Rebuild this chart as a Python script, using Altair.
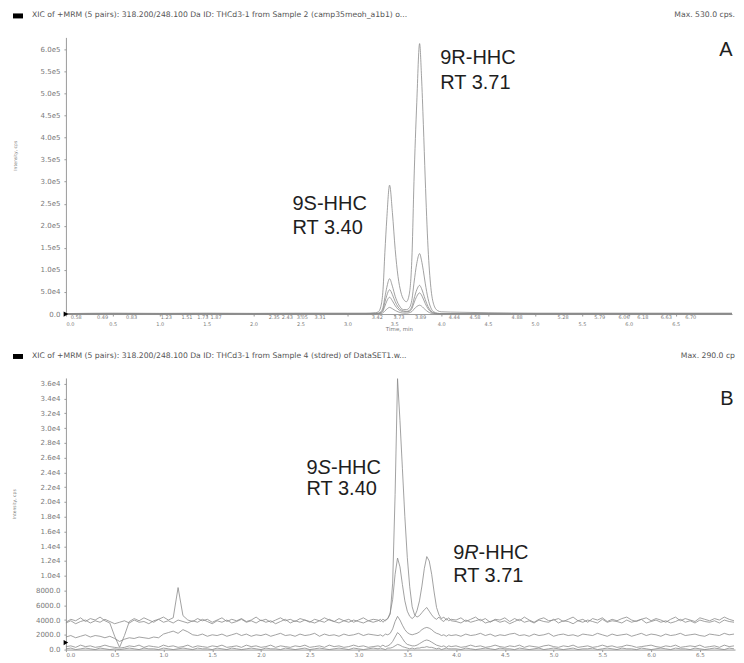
import altair as alt
import numpy as np
import pandas as pd

# ---------------- Panel A data (intensity in thousands of cps) ----------------
TA = [0.0, 0.5, 1.0, 1.5, 2.0, 2.5, 3.0, 3.2,
      3.30, 3.33, 3.36, 3.38, 3.40, 3.42, 3.45, 3.48,
      3.51, 3.54, 3.57, 3.60, 3.63, 3.66, 3.69, 3.71,
      3.74, 3.77, 3.79, 3.81, 3.83, 3.86, 3.89, 3.92,
      3.96, 4.0, 4.2, 4.5, 5.0, 5.5, 6.0, 6.5, 7.1]
A1 = [1, 2, 1.5, 2, 1.5, 2, 2, 2,
      3, 5, 20, 55, 140, 215, 292, 230,
      146, 85, 50, 33, 28, 45, 140, 300,
      480, 613, 540, 430, 306, 150, 60, 22,
      8, 5, 4, 3, 2, 2, 2, 2, 2]
A2 = [0.5, 1, 0.8, 1, 0.8, 1, 1, 1,
      1.5, 2, 6, 15, 38, 60, 80, 63,
      40, 24, 14, 10, 10, 14, 35, 70,
      115, 137, 122, 98, 70, 35, 14, 5,
      2, 1, 1, 1, 1, 1, 1, 1, 1]
A3 = [0.3, 0.5, 0.4, 0.5, 0.4, 0.5, 0.5, 0.5,
      1, 1.5, 4, 10, 27, 42, 55, 44,
      28, 16, 10, 7, 6, 8, 18, 34,
      55, 65, 58, 46, 33, 17, 7, 3,
      1, 0.5, 0.5, 0.5, 0.5, 0.5, 0.5, 0.5, 0.5]
A4 = [0.2, 0.3, 0.2, 0.3, 0.2, 0.3, 0.3, 0.3,
      0.5, 1, 3, 7, 18, 29, 38, 30,
      19, 11, 7, 5, 5, 6, 13, 25,
      40, 48, 43, 34, 24, 12, 5, 2,
      0.5, 0.3, 0.3, 0.3, 0.3, 0.3, 0.3, 0.3, 0.3]
A5 = [0.1, 0.2, 0.1, 0.2, 0.1, 0.2, 0.2, 0.2,
      0.3, 0.5, 1, 3, 7, 11, 15, 12,
      8, 5, 3, 2, 2, 3, 6, 11,
      17, 20, 18, 14, 10, 5, 2, 1,
      0.3, 0.2, 0.2, 0.2, 0.2, 0.2, 0.2, 0.2, 0.2]

A_PEAK_LABELS = ["0.58", "0.49", "0.83", "1.23", "1.51", "1.73", "1.87", "2.35", "2.43",
                 "3.05", "3.31", "3.42", "3.73", "3.89", "4.44", "4.58", "4.88", "5.28",
                 "5.79", "6.06", "6.18", "6.63", "6.70"]
A_PEAK_LABEL_T = [0.11, 0.39, 0.70, 1.07, 1.29, 1.46, 1.60, 2.22, 2.36,
                  2.52, 2.71, 3.32, 3.55, 3.78, 4.14, 4.36, 4.81, 5.30,
                  5.69, 5.95, 6.15, 6.40, 6.66]

# ---------------- Panel B data (intensity in hundreds of cps) ----------------
TB_1 = np.round(np.arange(0.0, 3.151, 0.05), 3).tolist()      # 64 points
TB_2 = np.round(np.arange(3.2, 3.951, 0.025), 3).tolist()     # 31 points
TB_3 = np.round(np.arange(4.0, 6.851, 0.05), 3).tolist()      # 58 points

B1 = ([37, 41, 39, 43, 38, 42, 40, 44,
       39, 36, 18, 3, 19, 38, 42, 39,
       43, 40, 37, 41, 44, 40, 43, 84,
       46, 40, 38, 42, 39, 41, 37, 40,
       43, 38, 41, 39, 42, 38, 40, 44,
       39, 41, 37, 40, 43, 39, 41, 38,
       42, 40, 37, 41, 39, 43, 40, 38,
       42, 39, 41, 37, 40, 43, 39, 41],
      [40, 38, 41, 39, 42, 48, 90, 210,
       367, 310, 245, 180, 125, 85, 58, 47,
       44, 46, 50, 54, 57, 52, 47, 43,
       41, 44, 40, 38, 42, 39, 41],
      [40, 43, 38, 41, 44, 39, 42, 37,
       41, 40, 43, 38, 42, 39, 44, 40,
       37, 41, 43, 39, 40, 42, 38, 41,
       44, 39, 41, 37, 42, 40, 43, 38,
       41, 39, 42, 44, 40, 38, 41, 43,
       39, 42, 40, 37, 41, 44, 39, 42,
       40, 38, 43, 41, 39, 42, 40, 44,
       41, 39])
B2 = ([36, 39, 35, 38, 40, 36, 39, 37,
       41, 38, 35, 37, 39, 36, 40, 37,
       38, 35, 39, 41, 37, 39, 36, 40,
       38, 36, 39, 37, 41, 38, 35, 39,
       37, 40, 36, 38, 41, 37, 39, 36,
       40, 37, 39, 35, 38, 41, 36, 39,
       37, 40, 38, 36, 39, 37, 41, 38,
       36, 39, 37, 40, 38, 36, 39, 37],
      [39, 41, 37, 40, 42, 50, 68, 102,
       124, 112, 88, 66, 52, 45, 42, 45,
       53, 66, 86, 110, 126, 120, 102, 78,
       57, 47, 42, 44, 40, 43, 39],
      [38, 36, 40, 37, 39, 41, 36, 38,
       40, 37, 39, 35, 38, 41, 37, 39,
       36, 40, 38, 37, 41, 36, 39, 38,
       35, 39, 37, 40, 38, 36, 41, 37,
       39, 38, 36, 40, 37, 39, 41, 36,
       38, 40, 37, 39, 36, 38, 41, 37,
       39, 36, 40, 38, 37, 39, 36, 40,
       38, 37])
B3 = ([17, 19, 16, 18, 20, 17, 19, 18,
       16, 18, 15, 11, 14, 16, 15, 17,
       16, 15, 17, 16, 21, 23, 25, 22,
       27, 24, 20, 19, 21, 18, 20, 19,
       21, 18, 20, 22, 19, 21, 18, 20,
       19, 21, 18, 20, 22, 19, 20, 18,
       21, 19, 20, 22, 18, 21, 19, 20,
       18, 21, 19, 20, 22, 19, 21, 20],
      [19, 20, 18, 21, 20, 22, 28, 38,
       45, 40, 33, 27, 23, 21, 20, 21,
       22, 24, 27, 29, 30, 29, 27, 24,
       22, 21, 19, 20, 18, 20, 19],
      [20, 18, 21, 19, 20, 22, 19, 21,
       18, 20, 19, 21, 22, 19, 20, 18,
       21, 19, 20, 22, 18, 20, 21, 19,
       20, 18, 21, 20, 19, 22, 20, 18,
       21, 19, 20, 21, 18, 20, 22, 19,
       21, 20, 18, 21, 19, 20, 22, 19,
       20, 21, 19, 18, 21, 20, 19, 22,
       20, 21])
B4 = ([4, 5, 3, 6, 4, 5, 3, 4,
       6, 4, 3, 2, 3, 5, 4, 6,
       3, 5, 4, 3, 6, 4, 5, 3,
       4, 6, 3, 5, 4, 3, 5, 4,
       6, 3, 4, 5, 3, 6, 4, 5,
       3, 4, 6, 3, 5, 4, 3, 5,
       4, 6, 3, 4, 5, 3, 6, 4,
       5, 3, 4, 6, 4, 5, 3, 4],
      [5, 4, 6, 4, 5, 7, 11, 17,
       23, 20, 15, 10, 7, 6, 5, 5,
       6, 8, 10, 12, 13, 12, 10, 8,
       6, 5, 4, 5, 3, 5, 4],
      [5, 3, 4, 6, 4, 5, 3, 4,
       6, 4, 3, 5, 4, 6, 3, 5,
       4, 3, 5, 6, 4, 3, 5, 4,
       6, 3, 4, 5, 3, 4, 6, 4,
       5, 3, 4, 6, 5, 3, 4, 5,
       6, 4, 3, 5, 4, 6, 3, 4,
       5, 4, 6, 3, 4, 5, 3, 6,
       4, 5])
B5 = ([1, 2, 0, 1, 2, 1, 0, 2,
       1, 0, 1, 0, 1, 2, 1, 0,
       2, 1, 1, 0, 2, 1, 0, 1,
       2, 1, 0, 2, 1, 1, 0, 2,
       1, 0, 2, 1, 0, 1, 2, 1,
       0, 2, 1, 1, 0, 2, 1, 0,
       1, 2, 0, 1, 2, 1, 0, 1,
       2, 1, 0, 2, 1, 0, 1, 2],
      [1, 2, 1, 0, 2, 2, 3, 5,
       7, 6, 4, 3, 2, 1, 2, 1,
       2, 2, 3, 3, 4, 3, 3, 2,
       1, 2, 0, 1, 2, 1, 1],
      [1, 0, 2, 1, 0, 1, 2, 1,
       0, 2, 1, 1, 0, 2, 1, 0,
       1, 2, 0, 1, 2, 1, 0, 1,
       2, 0, 1, 1, 2, 0, 1, 2,
       1, 0, 2, 1, 1, 0, 2, 1,
       0, 1, 2, 1, 0, 2, 1, 1,
       0, 2, 1, 0, 1, 2, 1, 0,
       2, 1])

HEADER_A = "XIC of +MRM (5 pairs): 318.200/248.100 Da ID: THCd3-1 from Sample 2 (camp35meoh_a1b1) o..."
MAX_A = "Max. 530.0 cps."
HEADER_B = "XIC of +MRM (5 pairs): 318.200/248.100 Da ID: THCd3-1 from Sample 4 (stdred) of DataSET1.w..."
MAX_B = "Max. 290.0 cp"

# ---------------- build tables ----------------
rows = []
for name, vals in [("T1", A1), ("T2", A2), ("T3", A3), ("T4", A4), ("T5", A5)]:
    for t, v in zip(TA, vals):
        rows.append({"trace": name, "t": t, "v": v * 1000})
dfA = pd.DataFrame(rows)

rows = []
for name, segs in [("T1", B1), ("T2", B2), ("T3", B3), ("T4", B4), ("T5", B5)]:
    for times, vals in zip((TB_1, TB_2, TB_3), segs):
        for t, v in zip(times, vals):
            rows.append({"trace": name, "t": t, "v": v * 100})
dfB = pd.DataFrame(rows)

GRAY = "#8a8a8a"
AX_GRAY = "#9a9a9a"
LAB = "#7a7a7a"
FONT = "Liberation Sans"
TICK_FONT = "DejaVu Sans"
HEAD_SIZE = 7.7

# ---------------- Panel A ----------------
WA, HA = 667, 277
XA = alt.X("t:Q", scale=alt.Scale(domain=[0, 7.1], nice=False, zero=False),
           axis=alt.Axis(values=[x / 2 for x in range(14)], format=".1f", grid=False,
                         labelFontSize=5, labelFont=TICK_FONT, labelColor=LAB,
                         labelPadding=5, tickSize=2, tickColor=AX_GRAY, domainColor=AX_GRAY,
                         title="Time, min", titleFontSize=5.5, titleFont=TICK_FONT,
                         titleColor=LAB, titleFontWeight="normal", titlePadding=0))
YA = alt.Y("v:Q", scale=alt.Scale(domain=[0, 627000], nice=False),
           axis=alt.Axis(values=list(range(0, 600001, 50000)),
                         labelExpr="datum.value == 0 ? '0.0' : replace(format(datum.value, '.1e'), '+', '')",
                         grid=False, labelFontSize=7, labelFont=TICK_FONT, labelColor=LAB,
                         labelPadding=4, tickSize=2, tickColor=AX_GRAY, domainColor=AX_GRAY,
                         minExtent=40, maxExtent=40,
                         title="Intensity, cps", titleFontSize=4.5, titleFont=TICK_FONT,
                         titleColor=LAB, titleFontWeight="normal", titleAngle=270,
                         titleX=-50, titleY=118, titleAlign="center", titleBaseline="middle"))

linesA = alt.Chart(dfA).mark_line(color=GRAY, strokeWidth=0.8, interpolate="monotone").encode(
    x=XA, y=YA, detail="trace:N")

markA = alt.Chart(pd.DataFrame({"t": [0.0], "v": [0.0]})).mark_point(
    shape="triangle-right", filled=True, color="black", size=28, opacity=1).encode(x=XA, y=YA)

peakLblA = alt.Chart(pd.DataFrame({"t": A_PEAK_LABEL_T, "s": A_PEAK_LABELS})).mark_text(
    fontSize=5, font=TICK_FONT, color=LAB, baseline="top", align="center").encode(
    x=XA, y=alt.value(HA + 1), text="s:N")

annA = alt.Chart(pd.DataFrame({
    "t": [3.99, 3.99, 2.415, 2.415],
    "v": [581000, 524000, 249000, 196000],
    "s": ["9R-HHC", "RT 3.71", "9S-HHC", "RT 3.40"]})).mark_text(
    align="left", baseline="middle", fontSize=20, font=FONT, color="#1e1e1e").encode(
    x=XA, y=YA, text="s:N")

headA = alt.Chart(pd.DataFrame({"s": [HEADER_A]})).mark_text(
    align="left", baseline="middle", fontSize=HEAD_SIZE, font=TICK_FONT, color="#555555").encode(
    x=alt.value(-34), y=alt.value(-22), text="s:N")
maxA = alt.Chart(pd.DataFrame({"s": [MAX_A]})).mark_text(
    align="right", baseline="middle", fontSize=HEAD_SIZE, font=TICK_FONT, color="#555555").encode(
    x=alt.value(670), y=alt.value(-22), text="s:N")
boxA = alt.Chart(pd.DataFrame({"s": ["box"]})).mark_rect(color="black").encode(
    x=alt.value(-53), x2=alt.value(-43), y=alt.value(-24), y2=alt.value(-19))
letterA = alt.Chart(pd.DataFrame({"s": ["A"]})).mark_text(
    align="center", baseline="middle", fontSize=20, font=FONT, color="#1e1e1e").encode(
    x=alt.value(661), y=alt.value(13), text="s:N")

panelA = alt.layer(linesA, markA, peakLblA, annA, headA, maxA, boxA, letterA).properties(
    width=WA, height=HA)

# ---------------- Panel B ----------------
WB, HB = 670, 272
XB = alt.X("t:Q", scale=alt.Scale(domain=[0, 6.86], nice=False, zero=False),
           axis=alt.Axis(values=[x / 2 for x in range(14)], format=".1f", grid=False,
                         labelFontSize=5.5, labelFont=TICK_FONT, labelColor=LAB,
                         labelPadding=1, tickSize=2, tickColor=AX_GRAY, domainColor=AX_GRAY,
                         title=None))
YB = alt.Y("v:Q", scale=alt.Scale(domain=[0, 36800], nice=False),
           axis=alt.Axis(values=list(range(0, 36001, 2000)),
                         labelExpr="datum.value >= 10000 ? replace(format(datum.value, '.1e'), '+', '') : format(datum.value, '.1f')",
                         grid=False, labelFontSize=7, labelFont=TICK_FONT, labelColor=LAB,
                         labelPadding=4, tickSize=2, tickColor=AX_GRAY, domainColor=AX_GRAY,
                         minExtent=40, maxExtent=40,
                         title="Intensity, cps", titleFontSize=4.5, titleFont=TICK_FONT,
                         titleColor=LAB, titleFontWeight="normal", titleAngle=270,
                         titleX=-51, titleY=126, titleAlign="center", titleBaseline="middle"))

linesB = alt.Chart(dfB).mark_line(color=GRAY, strokeWidth=0.8).encode(
    x=XB, y=YB, detail="trace:N")

markB = alt.Chart(pd.DataFrame({"t": [0.0], "v": [950.0]})).mark_point(
    shape="triangle-right", filled=True, color="black", size=28, opacity=1).encode(x=XB, y=YB)

annB_num = alt.Chart(pd.DataFrame({
    "t": [2.467, 3.97], "v": [24660, 13110], "s": ["9", "9"]})).mark_text(
    align="left", baseline="middle", fontSize=20, font=FONT, color="#1e1e1e").encode(
    x=XB, y=YB, text="s:N")
annB_it = alt.Chart(pd.DataFrame({
    "t": [2.467, 3.97], "v": [24660, 13110], "s": ["S", "R"]})).mark_text(
    align="left", baseline="middle", fontSize=20, font=FONT, fontStyle="italic",
    color="#1e1e1e", dx=11.1).encode(x=XB, y=YB, text="s:N")
annB_s = alt.Chart(pd.DataFrame({
    "t": [2.467], "v": [24660], "s": ["-HHC"]})).mark_text(
    align="left", baseline="middle", fontSize=20, font=FONT, color="#1e1e1e", dx=24.5).encode(
    x=XB, y=YB, text="s:N")
annB_r = alt.Chart(pd.DataFrame({
    "t": [3.97], "v": [13110], "s": ["-HHC"]})).mark_text(
    align="left", baseline="middle", fontSize=20, font=FONT, color="#1e1e1e", dx=25.5).encode(
    x=XB, y=YB, text="s:N")
annB_rt = alt.Chart(pd.DataFrame({
    "t": [2.467, 3.97], "v": [21760, 10000], "s": ["RT 3.40", "RT 3.71"]})).mark_text(
    align="left", baseline="middle", fontSize=20, font=FONT, color="#1e1e1e").encode(
    x=XB, y=YB, text="s:N")

headB = alt.Chart(pd.DataFrame({"s": [HEADER_B]})).mark_text(
    align="left", baseline="middle", fontSize=HEAD_SIZE, font=TICK_FONT, color="#555555").encode(
    x=alt.value(-34), y=alt.value(-22), text="s:N")
maxB = alt.Chart(pd.DataFrame({"s": [MAX_B]})).mark_text(
    align="right", baseline="middle", fontSize=HEAD_SIZE, font=TICK_FONT, color="#555555").encode(
    x=alt.value(670), y=alt.value(-22), text="s:N")
boxB = alt.Chart(pd.DataFrame({"s": ["box"]})).mark_rect(color="black").encode(
    x=alt.value(-53), x2=alt.value(-43), y=alt.value(-24), y2=alt.value(-19))
letterB = alt.Chart(pd.DataFrame({"s": ["B"]})).mark_text(
    align="center", baseline="middle", fontSize=20, font=FONT, color="#1e1e1e").encode(
    x=alt.value(662), y=alt.value(21), text="s:N")

panelB = alt.layer(linesB, markB, annB_num, annB_it, annB_s, annB_r, annB_rt,
                   headB, maxB, boxB, letterB).properties(width=WB, height=HB)

chart = alt.vconcat(panelA, panelB, spacing=20).properties(
    padding={"left": 4, "top": 3, "right": 0, "bottom": 0},
    background="white",
).configure_view(stroke=None)

chart.save("out.html", embed_options={"renderer": "svg", "actions": False})
